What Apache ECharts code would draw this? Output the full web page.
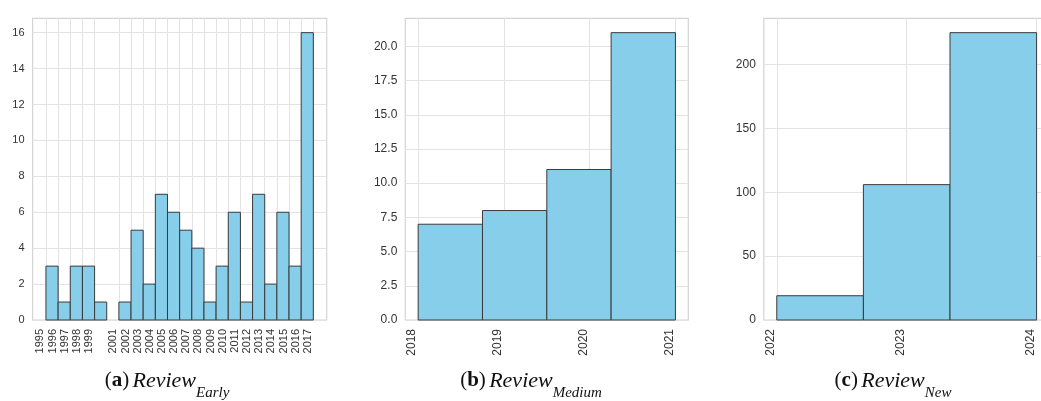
<!DOCTYPE html>
<html>
<head>
<meta charset="utf-8">
<script src="https://cdn.jsdelivr.net/npm/echarts@6/dist/echarts.min.js"></script>
<style>
html,body{margin:0;padding:0;background:#fff;}
#chart{width:1041px;height:401px;}
</style>
</head>
<body>
<div id="chart"></div>
<script>
// ---- Data ----
const earlyEdges = [1995,1996,1997,1998,1999,2000,2001,2002,2003,2004,2005,2006,2007,2008,2009,2010,2011,2012,2013,2014,2015,2016,2017];
const earlyCounts = [3,1,3,3,1,0,1,5,2,7,6,5,4,1,3,6,1,7,2,6,3,16];
const earlyTicks = [1995,1996,1997,1998,1999,2001,2002,2003,2004,2005,2006,2007,2008,2009,2010,2011,2012,2013,2014,2015,2016,2017];
const earlyYTicks = [0,2,4,6,8,10,12,14,16];

const mediumEdges = [2018, 2018.75, 2019.5, 2020.25, 2021];
const mediumCounts = [7, 8, 11, 21];
const mediumTicks = [2018, 2019, 2020, 2021];
const mediumYTicks = [0, 2.5, 5, 7.5, 10, 12.5, 15, 17.5, 20];

const newEdges = [2022, 2022 + 2/3, 2022 + 4/3, 2024];
const newCounts = [19, 106, 225];
const newTicks = [2022, 2023, 2024];
const newYTicks = [0, 50, 100, 150, 200];

const captions = [
  {letter: 'a', name: 'Review', sub: 'Early'},
  {letter: 'b', name: 'Review', sub: 'Medium'},
  {letter: 'c', name: 'Review', sub: 'New'}
];

// ---- Layout ----
const panels = [
  {edges: earlyEdges, counts: earlyCounts, ticks: earlyTicks, yTicks: earlyYTicks, left: 32.6, width: 294.1, fs: 11, yFmt: v => String(v), capX: 167},
  {edges: mediumEdges, counts: mediumCounts, ticks: mediumTicks, yTicks: mediumYTicks, left: 405.3, width: 283.0, fs: 12, yFmt: v => v.toFixed(1), capX: 531},
  {edges: newEdges, counts: newCounts, ticks: newTicks, yTicks: newYTicks, left: 763.8, width: 285.8, fs: 12, yFmt: v => String(v), capX: 893}
];
const gridTop = 18.3, gridBottomY = 320;

const grid = [], xAxis = [], yAxis = [], series = [];
panels.forEach((p, i) => {
  const x0 = p.edges[0], x1 = p.edges[p.edges.length - 1];
  const span = x1 - x0;
  const ymax = Math.max(...p.counts) * 1.05;
  grid.push({left: p.left, width: p.width, top: gridTop, height: gridBottomY - gridTop,
    show: true, borderColor: '#d4d4d4', borderWidth: 1.2, backgroundColor: 'transparent',
    containLabel: false, outerBoundsMode: 'none'});
  xAxis.push({
    type: 'value', gridIndex: i, min: x0 - 0.05 * span, max: x1 + 0.05 * span,
    axisLine: {show: false},
    axisTick: {show: false, customValues: p.ticks},
    splitLine: {show: true, lineStyle: {color: '#e3e3e3', width: 1}},
    axisLabel: {
      customValues: p.ticks, rotate: 90, margin: 9, color: '#333',
      fontFamily: 'Liberation Sans, Arial, sans-serif', fontSize: p.fs,
      verticalAlign: 'bottom', formatter: v => String(Math.round(v))
    }
  });
  yAxis.push({
    type: 'value', gridIndex: i, min: 0, max: ymax,
    axisLine: {show: false},
    axisTick: {show: false, customValues: p.yTicks},
    splitLine: {show: true, lineStyle: {color: '#e3e3e3', width: 1}},
    axisLabel: {
      customValues: p.yTicks, margin: 8, color: '#333',
      fontFamily: 'Liberation Sans, Arial, sans-serif', fontSize: p.fs,
      formatter: p.yFmt
    }
  });
  const data = p.counts.map((c, k) => [p.edges[k], p.edges[k + 1], c]);
  series.push({
    type: 'custom', xAxisIndex: i, yAxisIndex: i, data: data,
    encode: {x: [0, 1], y: 2},
    renderItem: function (params, api) {
      const a = api.value(0), b = api.value(1), v = api.value(2);
      if (!v) return null;
      const pTop = api.coord([a, v]);
      const pBot = api.coord([b, 0]);
      return {
        type: 'rect',
        shape: {x: pTop[0], y: pTop[1], width: pBot[0] - pTop[0], height: pBot[1] - pTop[1]},
        style: {fill: '#87CEEB', stroke: '#3a3a3a', lineWidth: 1}
      };
    },
    clip: false, silent: true, animation: false
  });
});

const graphic = captions.map((c, i) => ({
  type: 'text', x: panels[i].capX, y: 370,
  style: {
    text: '{n|(}{b|' + c.letter + '}{n|)} {i|' + c.name + '}{s|' + c.sub + '}',
    textAlign: 'center', textVerticalAlign: 'top',
    rich: {
      n: {fontFamily: 'Liberation Serif, serif', fontSize: 21, lineHeight: 21, verticalAlign: 'top', fill: '#111'},
      b: {fontFamily: 'Liberation Serif, serif', fontSize: 21, lineHeight: 21, fontWeight: 'bold', verticalAlign: 'top', fill: '#111'},
      i: {fontFamily: 'Liberation Serif, serif', fontSize: 22, lineHeight: 21, fontStyle: 'italic', verticalAlign: 'top', fill: '#111'},
      s: {fontFamily: 'Liberation Serif, serif', fontSize: 15, lineHeight: 15, fontStyle: 'italic', verticalAlign: 'top', padding: [16, 0, 0, 0], fill: '#111'}
    }
  }
}));

const chart = echarts.init(document.getElementById('chart'), null, {renderer: 'canvas'});
chart.setOption({animation: false, backgroundColor: '#fff', grid, xAxis, yAxis, series, graphic});
</script>
</body>
</html>
